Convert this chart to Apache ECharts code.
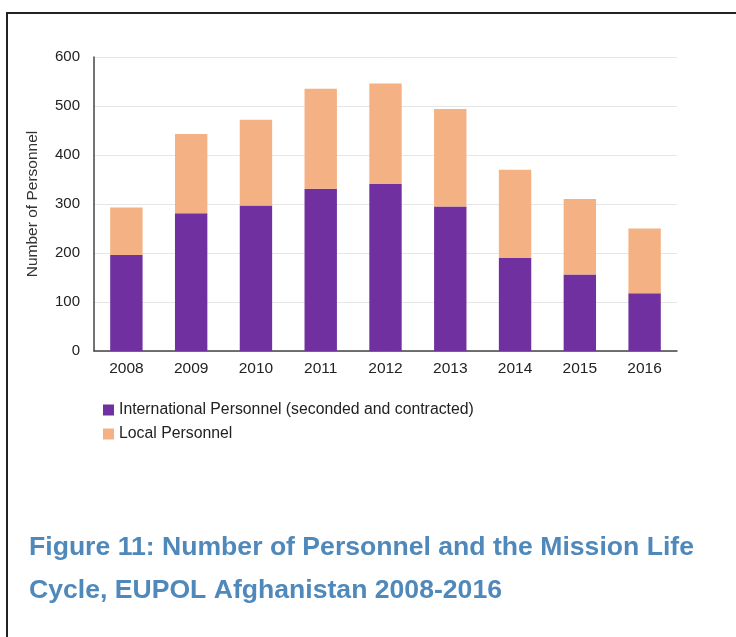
<!DOCTYPE html>
<html>
<head>
<meta charset="utf-8">
<title>EUPOL Afghanistan personnel</title>
<script src="https://cdn.jsdelivr.net/npm/echarts@6/dist/echarts.min.js"></script>
<style>
  html, body { margin: 0; padding: 0; background: #fff; }
  #chart { width: 736px; height: 637px; }
</style>
</head>
<body>
<div id="chart"></div>
<script>
const years = ['2008', '2009', '2010', '2011', '2012', '2013', '2014', '2015', '2016']
const international = [196, 281, 297, 331, 341, 295, 190, 156, 118]
const local = [97, 162, 175, 204, 205, 199, 180, 154, 132]
const yTicks = [0, 100, 200, 300, 400, 500, 600]

const chart = echarts.init(document.getElementById('chart'))
const option = {
  animation: false,
  textStyle: { fontFamily: '"Liberation Sans", Arial, sans-serif' },
  grid: { left: 94, right: 59, top: 57, bottom: 286 },
  legend: {
    orient: 'vertical',
    left: 98,
    top: 397,
    itemWidth: 11,
    itemHeight: 11,
    itemGap: 8,
    icon: 'rect',
    textStyle: { fontSize: 15.8, color: '#222' },
    data: ['International Personnel (seconded and contracted)', 'Local Personnel']
  },
  xAxis: {
    type: 'category',
    data: years,
    axisLine: { lineStyle: { color: '#444', width: 1.5 } },
    axisTick: { show: false },
    axisLabel: { fontSize: 15.5, color: '#222', margin: 10 }
  },
  yAxis: {
    type: 'value',
    min: yTicks[0],
    max: yTicks[yTicks.length - 1],
    interval: 100,
    name: 'Number of Personnel',
    nameLocation: 'middle',
    nameGap: 53,
    nameTextStyle: { fontSize: 15.5, color: '#333' },
    axisLine: { show: true, lineStyle: { color: '#444', width: 1.5 } },
    axisTick: { show: false },
    axisLabel: { fontSize: 15, color: '#222', margin: 14 },
    splitLine: { lineStyle: { color: '#e6e6e6' } }
  },
  series: [
    {
      name: 'International Personnel (seconded and contracted)',
      type: 'bar',
      stack: 'total',
      barWidth: '50%',
      itemStyle: { color: '#7030a0' },
      data: international
    },
    {
      name: 'Local Personnel',
      type: 'bar',
      stack: 'total',
      barWidth: '50%',
      itemStyle: { color: '#f4b183' },
      data: local
    }
  ],
  graphic: [
    {
      type: 'polyline',
      shape: { points: [[7, 700], [7, 13], [740, 13]] },
      style: { stroke: '#222', lineWidth: 2, fill: null }
    },
    {
      type: 'text',
      left: 29,
      top: 534,
      style: {
        text: 'Figure 11: Number of Personnel and the Mission Life',
        font: 'bold 26.6px "Liberation Sans", Arial, sans-serif',
        fill: '#4f88bb'
      }
    },
    {
      type: 'text',
      left: 29,
      top: 577,
      style: {
        text: 'Cycle, EUPOL Afghanistan 2008-2016',
        font: 'bold 26.6px "Liberation Sans", Arial, sans-serif',
        fill: '#4f88bb'
      }
    }
  ]
}
chart.setOption(option)
</script>
</body>
</html>
